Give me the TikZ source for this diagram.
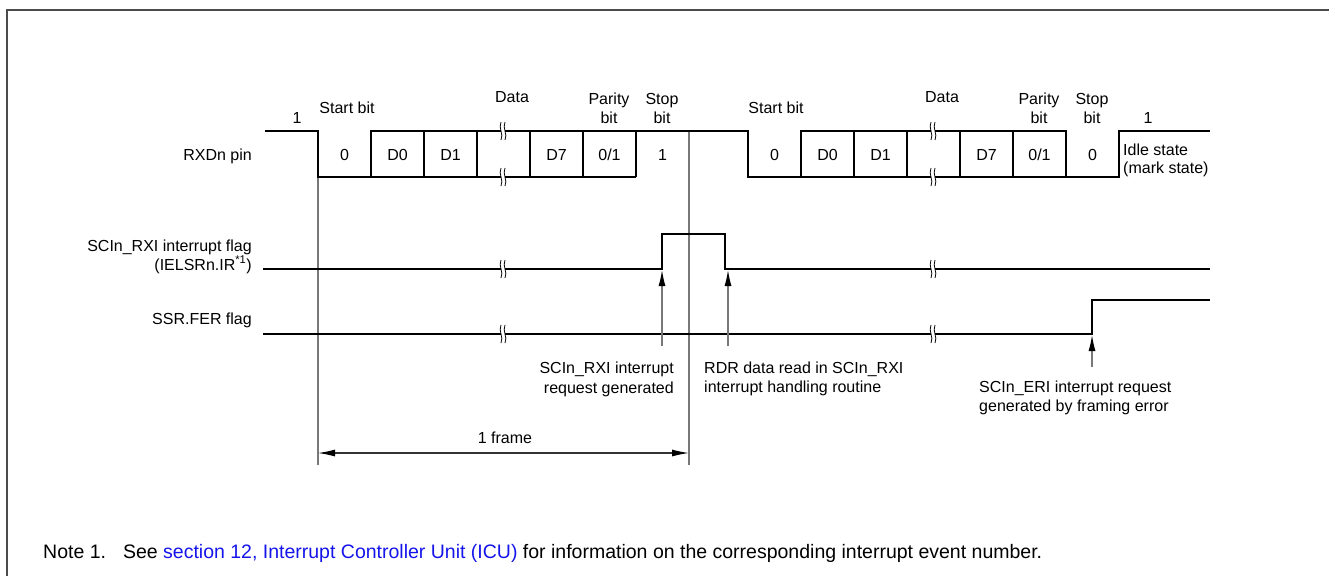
\documentclass[tikz,border=0pt]{standalone}
\usepackage{fontspec}
\setmainfont{Liberation Sans}
\usetikzlibrary{arrows.meta}
\definecolor{linkblue}{RGB}{20,20,235}
\definecolor{gline}{RGB}{120,120,120}
\tikzset{
  sig/.style={line width=1.4pt, black},
  guide/.style={line width=1.2pt, gline},
  lbl/.style={font=\fontsize{16}{19}\selectfont, inner sep=0pt, anchor=base},
  lblr/.style={lbl, anchor=base east},
  lbll/.style={lbl, anchor=base west},
  uparrow/.style={guide, -{Latex[length=16pt,width=7pt,color=black]}},
  brkmark/.pic={
    \fill[white] (-2,-6) rectangle (2,6);
    \draw[line width=0.8pt] (-2,-9) .. controls (-5,-3) and (1,3) .. (-2,9);
    \draw[line width=0.8pt] (2,-9) .. controls (-1,-3) and (5,3) .. (2,9);
  }
}
\begin{document}
\begin{tikzpicture}[x=1pt,y=-1pt]
\useasboundingbox (0,0) rectangle (1329,576);
% border
\draw[line width=1.2pt, black!70] (7,576) -- (7,10) -- (1329,10);

% guide lines
\coordinate (fs) at (318,177);
\coordinate (fsb) at (318,465);
\coordinate (fe) at (689,131);
\coordinate (feb) at (689,465);
\draw[guide] (fs) -- (fsb);
\draw[guide] (fe) -- (feb);

% RXD waveform
\draw[sig] (265,131) -- (318,131) -- (318,177) -- (636,177);
\draw[sig] (371,177) -- (371,131) -- (748,131) -- (748,177) -- (1119,177) -- (1119,131) -- (1210,131);
\draw[sig] (801,177) -- (801,131) -- (1066,131) -- (1066,177);
\foreach \x in {424,477,530,583,636,854,907,960,1013}
  \draw[sig] (\x,131) -- (\x,177);

% RXI flag
\draw[sig] (263,269) -- (662,269) -- (662,234) -- (725,234) -- (725,269) -- (1210,269);
% FER flag
\draw[sig] (263,334) -- (1092,334) -- (1092,300) -- (1210,300);

% break marks
\foreach \x in {503,933}{
  \pic at (\x,131) {brkmark};
  \pic at (\x,177) {brkmark};
  \pic at (\x,269) {brkmark};
  \pic at (\x,334) {brkmark};
}

% arrows
\coordinate (a1b) at (662,346); \coordinate (a1t) at (662,270);
\coordinate (a2b) at (728,346); \coordinate (a2t) at (728,270);
\coordinate (a3b) at (1092,367); \coordinate (a3t) at (1092,335);
\draw[uparrow] (a1b) -- (a1t);
\draw[uparrow] (a2b) -- (a2t);
\draw[uparrow] (a3b) -- (a3t);

% frame arrow
\coordinate (fl) at (318,453);
\coordinate (fr) at (689,453);
\draw[line width=1.2pt, black!80, {Latex[length=17pt,width=7pt,color=black]}-{Latex[length=17pt,width=7pt,color=black]}] (fl) -- (fr);
\node[lbl] (frame) at (505,443) {1 frame};

% signal labels
\node[lblr] (rxd) at (252,160) {RXDn pin};
\node[lblr] (rxi1) at (252,251) {SCIn\_RXI interrupt flag};
\node[lblr] (rxi2) at (252,270) {(IELSRn.IR\textsuperscript{*1})};
\node[lblr] (fer) at (252,324) {SSR.FER flag};

% top labels frame 1
\node[lbl] (one1) at (297,123) {1};
\node[lbl] (st1) at (347,113) {Start bit};
\node[lbl] (da1) at (512,102) {Data};
\node[lbl] (pa1) at (609,104) {Parity};
\node[lbl] (pb1) at (609,123) {bit};
\node[lbl] (so1) at (662,104) {Stop};
\node[lbl] (sb1) at (662,123) {bit};
% top labels frame 2
\node[lbl] (st2) at (776,113) {Start bit};
\node[lbl] (da2) at (942,102) {Data};
\node[lbl] (pa2) at (1039,104) {Parity};
\node[lbl] (pb2) at (1039,123) {bit};
\node[lbl] (so2) at (1092,104) {Stop};
\node[lbl] (sb2) at (1092,123) {bit};
\node[lbl] (one2) at (1148,123) {1};
\node[lbll] (idle1) at (1123,155) {Idle state};
\node[lbll] (idle2) at (1123,173) {(mark state)};

% cell values
\node[lbl] at (344.5,160) {0};
\node[lbl] at (397.5,160) {D0};
\node[lbl] at (450.5,160) {D1};
\node[lbl] at (556.5,160) {D7};
\node[lbl] at (609.5,160) {0/1};
\node[lbl] at (662.5,160) {1};
\node[lbl] at (774.5,160) {0};
\node[lbl] at (827.5,160) {D0};
\node[lbl] at (880.5,160) {D1};
\node[lbl] at (986.5,160) {D7};
\node[lbl] at (1039.5,160) {0/1};
\node[lbl] at (1092.5,160) {0};

% event labels
\node[lblr] (ev1a) at (674,373) {SCIn\_RXI interrupt};
\node[lblr] (ev1b) at (674,393) {request generated};
\node[lbll] (ev2a) at (704,373) {RDR data read in SCIn\_RXI};
\node[lbll] (ev2b) at (704,392) {interrupt handling routine};
\node[lbll] (ev3a) at (979,392) {SCIn\_ERI interrupt request};
\node[lbll] (ev3b) at (979,411) {generated by framing error};

% note
\node[anchor=base west, inner sep=0pt, font=\fontsize{19.5}{22}\selectfont] (note) at (43,558)
  {Note 1.\hspace{17pt}See \textcolor{linkblue}{section 12, Interrupt Controller Unit (ICU)} for information on the corresponding interrupt event number.};
\end{tikzpicture}
\end{document}
